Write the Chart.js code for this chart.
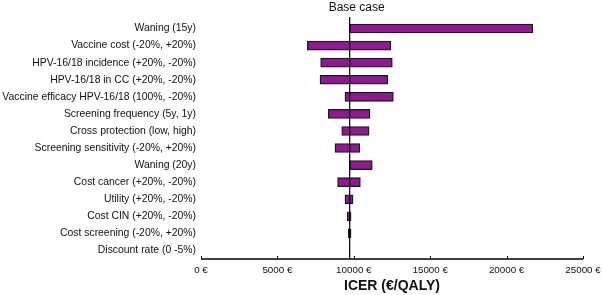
<!DOCTYPE html>
<html>
<head>
<meta charset="utf-8">
<script src="https://cdn.jsdelivr.net/npm/chart.js@4"></script>
<style>
  html, body { margin: 0; padding: 0; background: #fff; }
  #wrap { width: 602px; height: 295px; }
</style>
</head>
<body>
<div id="wrap"><canvas id="tornado" width="602" height="295"></canvas></div>
<script>
const params = [
  "Waning (15y)",
  "Vaccine cost (-20%, +20%)",
  "HPV-16/18 incidence (+20%, -20%)",
  "HPV-16/18 in CC (+20%, -20%)",
  "Vaccine efficacy HPV-16/18 (100%, -20%)",
  "Screening frequency (5y, 1y)",
  "Cross protection (low, high)",
  "Screening sensitivity (-20%, +20%)",
  "Waning (20y)",
  "Cost cancer (+20%, -20%)",
  "Utility (+20%, -20%)",
  "Cost CIN (+20%, -20%)",
  "Cost screening (-20%, +20%)",
  "Discount rate (0 -5%)",
];
const lowIcer = [9730, 6960, 7830, 7790, 9420, 8330, 9210, 8770, 9730, 8940, 9420, 9570, 9640, 9720];
const highIcer = [21710, 12420, 12520, 12220, 12590, 11060, 11000, 10390, 11210, 10430, 9950, 9820, 9820, 9740];
const baseCase = 9730;
const xTicks = [0, 5000, 10000, 15000, 20000, 25000];

const fontFamily = "'Liberation Sans', Arial, sans-serif";

// base case line, its label, and the small inward ticks on the x axis
const extras = {
  id: "extras",
  afterDatasetsDraw(chart) {
    const { ctx, chartArea, scales } = chart;
    const x = scales.x.getPixelForValue(baseCase);
    ctx.save();
    ctx.strokeStyle = "#000";
    ctx.lineWidth = 1.2;
    ctx.beginPath();
    ctx.moveTo(x, 17);
    ctx.lineTo(x, chartArea.bottom);
    ctx.stroke();

    ctx.fillStyle = "#111";
    ctx.font = "12px " + fontFamily;
    ctx.textAlign = "center";
    ctx.textBaseline = "middle";
    ctx.fillText("Base case", x + 7, 8);

    ctx.lineWidth = 1.5;
    ctx.beginPath();
    ctx.moveTo(chartArea.left, chartArea.bottom);
    ctx.lineTo(chartArea.right, chartArea.bottom);
    ctx.stroke();
    ctx.lineWidth = 1;
    xTicks.forEach((v) => {
      const tx = Math.round(scales.x.getPixelForValue(v)) + 0.5;
      ctx.beginPath();
      ctx.moveTo(tx, chartArea.bottom);
      ctx.lineTo(tx, chartArea.bottom - 3);
      ctx.stroke();
    });
    ctx.restore();
  },
};

new Chart(document.getElementById("tornado"), {
  type: "bar",
  data: {
    labels: params,
    datasets: [
      {
        data: params.map((p, i) => [lowIcer[i], highIcer[i]]),
        backgroundColor: "#8e1a91",
        borderColor: "#1a1a1a",
        borderWidth: 1.3,
        borderSkipped: false,
        barThickness: 9,
      },
    ],
  },
  options: {
    indexAxis: "y",
    responsive: false,
    animation: false,
    layout: { padding: { top: 20, right: 19, left: 0, bottom: 0 } },
    plugins: {
      legend: { display: false },
      tooltip: { enabled: false },
    },
    scales: {
      x: {
        min: 0,
        max: 25000,
        afterBuildTicks: (scale) => {
          scale.ticks = xTicks.map((v) => ({ value: v }));
        },
        afterFit: (scale) => {
          scale.height = 36;
          scale.paddingLeft = 0;
          scale.paddingRight = 0;
        },
        grid: { display: false, drawTicks: false },
        border: { display: false },
        ticks: {
          color: "#111",
          font: { family: fontFamily, size: 9.8 },
          padding: 5,
          maxRotation: 0,
          callback: (v) => v + " €",
        },
        title: {
          display: true,
          text: "ICER (€/QALY)",
          color: "#111",
          font: { family: fontFamily, size: 14, weight: "bold" },
          padding: { top: 0, bottom: 0 },
        },
      },
      y: {
        afterFit: (scale) => {
          scale.width = 201;
        },
        grid: { display: false, drawTicks: false },
        border: { display: false },
        ticks: {
          color: "#111",
          font: { family: fontFamily, size: 10.4 },
          padding: 5,
          autoSkip: false,
        },
      },
    },
  },
  plugins: [extras],
});
</script>
</body>
</html>
